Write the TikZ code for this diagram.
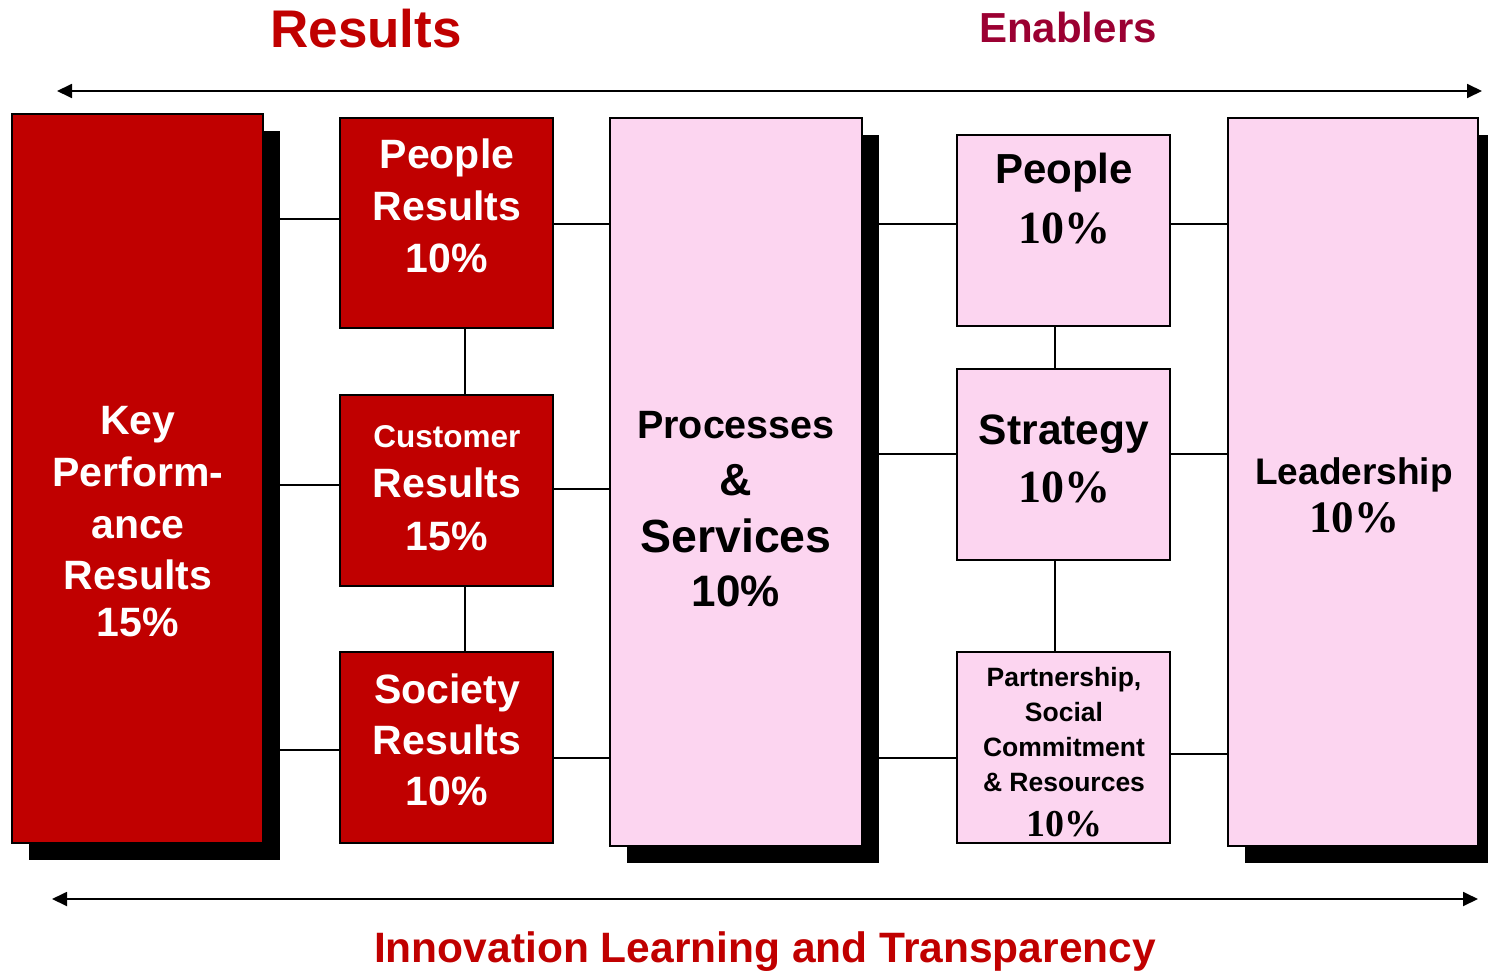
\documentclass[tikz,border=0pt]{standalone}
\usepackage{fontspec}
\setmainfont{Liberation Sans}
\newfontfamily\tmsfont{Liberation Serif}
\usetikzlibrary{arrows.meta,shadows}
\definecolor{efqmred}{RGB}{192,0,0}
\definecolor{efqmpink}{RGB}{252,213,240}
\definecolor{efqmcrimson}{RGB}{155,0,50}
\newcommand\sfb[1]{\fontsize{#1}{#1}\selectfont\bfseries}
\newcommand\tmb[1]{\tmsfont\fontsize{#1}{#1}\selectfont\bfseries}
\tikzset{
  box/.style={draw=black, line width=2pt, outer sep=0pt, inner sep=0pt},
  redbox/.style={box, fill=efqmred},
  pinkbox/.style={box, fill=efqmpink},
  shadowed/.style={drop shadow={shadow xshift=17pt, shadow yshift=-17pt, opacity=1, fill=black}},
  tl/.style={inner sep=0pt, anchor=base},
  wl/.style={tl, text=white},
  bl/.style={tl, text=black},
  conn/.style={draw=black, line width=1.5pt},
  bigarrow/.style={draw=black, line width=1.8pt, {Triangle[length=15pt,width=14pt]}-{Triangle[length=15pt,width=14pt]}}
}
\begin{document}
\begin{tikzpicture}[x=1pt,y=-1pt]
\useasboundingbox (0,0) rectangle (1488,971);
% boxes
\node[redbox, shadowed, minimum width=251pt, minimum height=729pt] (kpr) at (137.5,478.5) {};
\node[redbox, minimum width=213pt, minimum height=210pt] (pr) at (446.5,223) {};
\node[redbox, minimum width=213pt, minimum height=191pt] (cr) at (446.5,490.5) {};
\node[redbox, minimum width=213pt, minimum height=191pt] (sr) at (446.5,747.5) {};
\node[pinkbox, shadowed, minimum width=252pt, minimum height=728pt] (ps) at (736,482) {};
\node[pinkbox, minimum width=213pt, minimum height=191pt] (pe) at (1063.5,230.5) {};
\node[pinkbox, minimum width=213pt, minimum height=191pt] (st) at (1063.5,464.5) {};
\node[pinkbox, minimum width=213pt, minimum height=191pt] (pa) at (1063.5,747.5) {};
\node[pinkbox, shadowed, minimum width=250pt, minimum height=728pt] (ld) at (1353,482) {};
% connectors
\draw[conn] (kpr.east |- 0,219) -- (pr.west |- 0,219);
\draw[conn] (kpr.east |- 0,485) -- (cr.west |- 0,485);
\draw[conn] (kpr.east |- 0,750) -- (sr.west |- 0,750);
\draw[conn] (pr.south -| 465,0) -- (cr.north -| 465,0);
\draw[conn] (cr.south -| 465,0) -- (sr.north -| 465,0);
\draw[conn] (pr.east |- 0,224) -- (ps.west |- 0,224);
\draw[conn] (cr.east |- 0,489) -- (ps.west |- 0,489);
\draw[conn] (sr.east |- 0,758) -- (ps.west |- 0,758);
\draw[conn] (ps.east |- 0,224) -- (pe.west |- 0,224);
\draw[conn] (ps.east |- 0,454) -- (st.west |- 0,454);
\draw[conn] (ps.east |- 0,758) -- (pa.west |- 0,758);
\draw[conn] (pe.south -| 1055,0) -- (st.north -| 1055,0);
\draw[conn] (st.south -| 1055,0) -- (pa.north -| 1055,0);
\draw[conn] (pe.east |- 0,224) -- (ld.west |- 0,224);
\draw[conn] (st.east |- 0,454) -- (ld.west |- 0,454);
\draw[conn] (pa.east |- 0,754) -- (ld.west |- 0,754);
% arrows
\coordinate (ta) at (57,91);
\coordinate (tb) at (1482,91);
\coordinate (ba) at (52,899);
\coordinate (bb) at (1478,899);
\draw[bigarrow] (ta) -- (tb);
\draw[bigarrow] (ba) -- (bb);
% titles
\node[tl, text=efqmred, font=\sfb{53}] (tres) at (366,48) {Results};
\node[tl, text=efqmcrimson, font=\sfb{42}] (tena) at (1068,43) {Enablers};
\node[tl, text=efqmred, font=\sfb{42.5}] (tinn) at (765,962) {Innovation Learning and Transparency};
% key performance results
\node[wl, font=\sfb{41}] (k1) at (138,434) {Key};
\node[wl, font=\sfb{41}] (k2) at (138,486) {Perform-};
\node[wl, font=\sfb{41}] (k3) at (138,538) {ance};
\node[wl, font=\sfb{41}] (k4) at (138,589) {Results};
\node[wl, font=\sfb{41}] (k5) at (138,636) {15\%};
% people results
\node[wl, font=\sfb{41}] (p1) at (447,168) {People};
\node[wl, font=\sfb{41}] (p2) at (447,220) {Results};
\node[wl, font=\sfb{41}] (p3) at (447,272) {10\%};
% customer results
\node[wl, font=\sfb{31.5}] (c1) at (447,447) {Customer};
\node[wl, font=\sfb{41}] (c2) at (447,497) {Results};
\node[wl, font=\sfb{41}] (c3) at (447,550) {15\%};
% society results
\node[wl, font=\sfb{41}] (s1) at (447,703) {Society};
\node[wl, font=\sfb{41}] (s2) at (447,754) {Results};
\node[wl, font=\sfb{41}] (s3) at (447,805) {10\%};
% processes
\node[bl, font=\sfb{39.5}] (q1) at (736,438) {Processes};
\node[bl, font=\sfb{45}] (q2) at (736,495) {\&};
\node[bl, font=\sfb{46.5}] (q3) at (736,552) {Services};
\node[bl, font=\sfb{44}] (q4) at (736,606) {10\%};
% people enabler
\node[bl, font=\sfb{42}] (e1) at (1064,183) {People};
\node[bl, font=\tmb{46}] (e2) at (1064,243) {10\%};
% strategy
\node[bl, font=\sfb{42.5}] (g1) at (1064,444) {Strategy};
\node[bl, font=\tmb{46}] (g2) at (1064,502) {10\%};
% partnership
\node[bl, font=\sfb{26.5}] (a1) at (1064,686) {Partnership,};
\node[bl, font=\sfb{26.5}] (a2) at (1064,721) {Social};
\node[bl, font=\sfb{26.5}] (a3) at (1064,756) {Commitment};
\node[bl, font=\sfb{26.5}] (a4) at (1064,791) {\& Resources};
\node[bl, font=\tmb{38}] (a5) at (1064,836) {10\%};
% leadership
\node[bl, font=\sfb{37}] (l1) at (1354,484) {Leadership};
\node[bl, font=\tmb{45}] (l2) at (1354,532) {10\%};
\end{tikzpicture}
\end{document}
